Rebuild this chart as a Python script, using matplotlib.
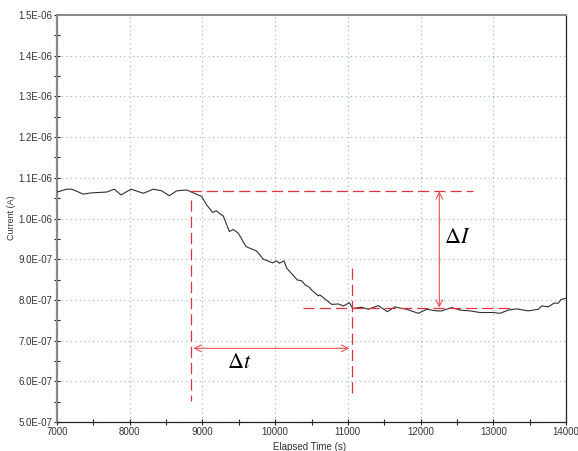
import matplotlib
matplotlib.use("Agg")
import matplotlib.pyplot as plt
from matplotlib.ticker import MultipleLocator, FuncFormatter

# ---- data ----
time_s = [7000, 7133, 7202, 7362, 7477, 7684, 7788, 7880, 8018, 8187, 8324, 8440,
          8544, 8646, 8784, 8875, 8990, 9059, 9141, 9187, 9287, 9370, 9425, 9493,
          9599, 9746, 9837, 9966, 10021, 10057, 10122, 10159, 10305, 10365, 10411,
          10470, 10503, 10594, 10617, 10778, 10869, 10938, 11020, 11067, 11191,
          11281, 11419, 11543, 11649, 11741, 11809, 11969, 12084, 12222, 12291,
          12428, 12543, 12680, 12818, 13001, 13093, 13207, 13322, 13482, 13619,
          13666, 13757, 13835, 13894, 13932, 14000]
current_e7 = [10.65, 10.72, 10.72, 10.60, 10.63, 10.65, 10.72, 10.58, 10.72, 10.62,
              10.72, 10.68, 10.56, 10.68, 10.70, 10.63, 10.54, 10.33, 10.15, 10.19,
              10.06, 9.68, 9.73, 9.64, 9.31, 9.20, 9.00, 8.91, 8.96, 8.90, 8.96,
              8.78, 8.49, 8.47, 8.37, 8.31, 8.24, 8.10, 8.12, 7.89, 7.90, 7.85,
              7.93, 7.79, 7.82, 7.77, 7.86, 7.71, 7.83, 7.79, 7.77, 7.67, 7.77,
              7.73, 7.73, 7.81, 7.75, 7.73, 7.69, 7.69, 7.67, 7.75, 7.78, 7.73,
              7.77, 7.85, 7.83, 7.92, 7.92, 8.01, 8.04]
current = [v * 1e-7 for v in current_e7]

# annotation levels
I_high = 1.067e-6
I_low = 0.781e-6
t_start = 8843
t_end = 11061
arrow_t_y = 0.681e-6
arrow_I_x = 12258

x_min, x_max = 7000, 14000
y_min, y_max = 5.0e-7, 1.5e-6

plt.rcParams['mathtext.fontset'] = 'stix'
fig = plt.figure(figsize=(5.78, 4.51), dpi=100)
ax = fig.add_axes([57/578, 29/451, 509/578, 407/451])

ax.plot(time_s, current, color='#303030', lw=0.8, zorder=3)

red = '#e8303a'
dash = (0, (9, 4))
ax.plot([t_start - 14, 12725], [I_high, I_high], color=red, lw=0.9, ls=dash, zorder=4)
ax.plot([t_start, t_start], [1.045e-6, 0.552e-6], color=red, lw=0.9, ls=dash, zorder=4)
ax.plot([10387, 13230], [I_low, I_low], color=red, lw=0.9, ls=dash, zorder=4)
ax.plot([t_end, t_end], [0.879e-6, 0.558e-6], color=red, lw=0.9, ls=dash, zorder=4)

arrow_col = '#f05050'
ax.annotate('', xy=(arrow_I_x, I_high), xytext=(arrow_I_x, I_low),
            arrowprops=dict(arrowstyle='<->', color=arrow_col, lw=0.8,
                            shrinkA=0, shrinkB=0, mutation_scale=12))
ax.annotate('', xy=(8875, arrow_t_y), xytext=(11020, arrow_t_y),
            arrowprops=dict(arrowstyle='<->', color=arrow_col, lw=0.8,
                            shrinkA=0, shrinkB=0, mutation_scale=12))
ax.text(12500, 0.955e-6, r'$\Delta I$', fontsize=16, ha='center', va='center', color='black')
ax.text(9503, 0.648e-6, r'$\Delta t$', fontsize=16, ha='center', va='center', color='black')

ax.set_xlim(x_min, x_max)
ax.set_ylim(y_min, y_max)
ax.xaxis.set_major_locator(MultipleLocator(1000))
ax.xaxis.set_minor_locator(MultipleLocator(500))
ax.yaxis.set_major_locator(MultipleLocator(1e-7))
ax.yaxis.set_minor_locator(MultipleLocator(5e-8))

def yfmt(v, pos):
    s = '%.1E' % v
    return s
ax.yaxis.set_major_formatter(FuncFormatter(yfmt))
ax.xaxis.set_major_formatter(FuncFormatter(lambda v, p: '%d' % round(v)))

ax.grid(True, which='major', color='#8fbfb8', ls=(0, (1, 3)), lw=0.8)
ax.tick_params(which='both', direction='inout', length=5, width=0.8, colors='#222222',
               labelsize=7, labelcolor='#333333', pad=1)
ax.tick_params(which='minor', length=4)
for lab in ax.get_xticklabels() + ax.get_yticklabels():
    lab.set_fontfamily('Liberation Sans')

ax.spines['left'].set_color('#888888')
ax.spines['left'].set_linewidth(1.6)
ax.spines['top'].set_color('#888888')
ax.spines['top'].set_linewidth(1.4)
ax.spines['right'].set_color('#222222')
ax.spines['right'].set_linewidth(0.9)
ax.spines['bottom'].set_color('#222222')
ax.spines['bottom'].set_linewidth(0.9)

fig.text(12/578, 1 - 218/451, 'Current (A)', rotation=90, ha='center', va='center',
         fontsize=6.5, color='#333333', family='Liberation Sans')
fig.text(310/578, 1 - 447/451, 'Elapsed Time (s)', ha='center', va='center',
         fontsize=7, color='#333333', family='Liberation Sans')

fig.savefig('out.png', dpi=100)
